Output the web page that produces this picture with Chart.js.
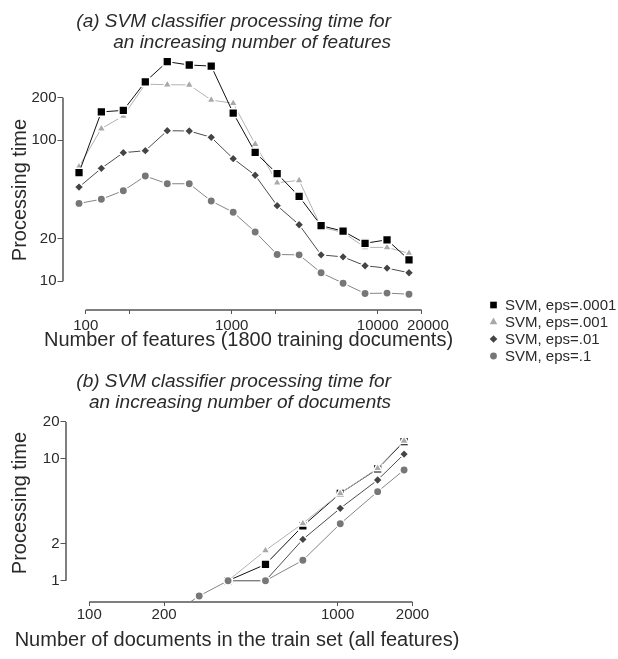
<!DOCTYPE html>
<html>
<head>
<meta charset="utf-8">
<script src="https://cdn.jsdelivr.net/npm/chart.js@4/dist/chart.umd.min.js"></script>
<style>
  html, body { margin: 0; padding: 0; background: #fff; }
  #wrap { position: relative; width: 618px; height: 659px; overflow: hidden;
          font-family: "Liberation Sans", Arial, sans-serif; color: #2a2a2a; }
  canvas { position: absolute; left: 0; top: 0; }
  .t { position: absolute; white-space: nowrap; }
  .title { font-style: italic; font-size: 19px; line-height: 21px; text-align: right; right: 227px; }
  .xt { font-size: 20px; line-height: 20px; transform: translateX(-50%); }
  .yt { font-size: 20px; line-height: 20px; transform: translate(-50%, -50%) rotate(-90deg); }
</style>
</head>
<body>
<div id="wrap">
  <canvas id="cFeat" width="618" height="659"></canvas>
  <canvas id="cDocs" width="618" height="659"></canvas>

  <div class="t title" style="top:10px">(a) SVM classifier processing time for<br>an increasing number of features</div>
  <div class="t yt" style="left:18.6px; top:190px">Processing time</div>
  <div class="t xt" style="left:248.5px; top:329px">Number of features (1800 training documents)</div>

  <div class="t title" style="top:370px">(b) SVM classifier processing time for<br>an increasing number of documents</div>
  <div class="t yt" style="left:18.6px; top:503px">Processing time</div>
  <div class="t xt" style="left:237px; top:629px">Number of documents in the train set (all features)</div>
</div>

<script>
// Series names (legend)
const seriesNames = ['SVM, eps=.0001', 'SVM, eps=.001', 'SVM, eps=.01', 'SVM, eps=.1'];

// (a) processing time vs number of features
const featureCounts = [90, 128, 181, 256, 362, 512, 724, 1024, 1448, 2048, 2896, 4096, 5793, 8192, 11585, 16384];
const featTimeEps0001 = [59, 159, 163, 260, 361, 342, 336, 156, 82, 58, 40, 24.8, 22.7, 18.6, 19.7, 14.2];
const featTimeEps001  = [65, 121, 149, 250, 248, 247, 193, 183, 94, 50, 52, 24.2, 22.2, 17.4, 17.4, 15.8];
const featTimeEps01   = [46.6, 63.3, 81.7, 84.4, 117, 116.4, 105, 74.1, 56.5, 34.4, 25.2, 15.4, 14.9, 12.9, 12.4, 11.5];
const featTimeEps1    = [35.7, 38.2, 43.9, 55.8, 49.2, 49.2, 37.1, 30.9, 22.4, 15.5, 15.4, 11.5, 9.7, 8.2, 8.25, 8.1];

// (b) processing time vs number of training documents
const docCounts = [200, 277, 362, 512, 724, 1024, 1448, 1850];
const docTimeEps0001 = [null, null, 1.0, 1.36, 2.81, 5.2, 8.25, 13.8];
const docTimeEps001  = [null, null, 1.0, 1.77, 2.95, 5.2, 8.34, 14.0];
const docTimeEps01   = [null, null, 1.0, 1.0, 2.18, 3.92, 6.69, 10.9];
const docTimeEps1    = [0.48, 0.75, 1.0, 1.0, 1.47, 2.93, 5.37, 8.08];

// Axis ticks and labels
const featXTicks  = [100, 200, 1000, 2000, 10000, 20000];
const featXLabels = ['100', '', '1000', '', '10000', '   20000'];
const featYTicks  = [10, 20, 100, 200];
const featYLabels = ['10', '20', '100', '200'];
const docXTicks   = [100, 200, 1000, 2000];
const docXLabels  = ['100', '200', '1000', '2000'];
const docYTicks   = [1, 2, 10, 20];
const docYLabels  = ['1', '2', '10', '20'];

// Marker look per series
const looks = [
  { pointStyle: 'rect',     fill: '#000000', line: '#111111', radius: 6.2, keyRadius: 4.7 },
  { pointStyle: 'triangle', fill: '#a8a8a8', line: '#b2b2b2', radius: 5.1, keyRadius: 4.4 },
  { pointStyle: 'rectRot',  fill: '#444444', line: '#4c4c4c', radius: 4.7, keyRadius: 3.8 },
  { pointStyle: 'circle',   fill: '#777777', line: '#858585', radius: 4.2, keyRadius: 3.4 }
];

const FONT = '"Liberation Sans", Arial, sans-serif';
const TEXT = '#2a2a2a';
Chart.defaults.font.family = FONT;
Chart.defaults.font.size = 15;
Chart.defaults.color = TEXT;

function buildDatasets(xs, seriesList, orders) {
  return seriesList.map((ys, i) => ({
    label: seriesNames[i],
    data: xs.map((x, k) => ({ x: x, y: ys[k] })),
    borderColor: looks[i].line,
    borderWidth: 1,
    backgroundColor: looks[i].fill,
    pointStyle: looks[i].pointStyle,
    pointRadius: looks[i].radius,
    pointBackgroundColor: looks[i].fill,
    pointBorderColor: '#ffffff',
    pointBorderWidth: 1.5,
    tension: 0,
    spanGaps: false,
    order: orders ? orders[i] : 0
  }));
}

// Axis lines that run only from the first to the last tick
const rangeFrame = {
  id: 'rangeFrame',
  beforeDatasetsDraw(chart, args, opts) {
    const { ctx, chartArea, scales } = chart;
    const xs = scales.x, ys = scales.y;
    ctx.save();
    ctx.strokeStyle = opts.color;
    ctx.lineWidth = opts.width;
    ctx.beginPath();
    ctx.moveTo(xs.getPixelForValue(opts.xTicks[0]), chartArea.bottom);
    ctx.lineTo(xs.getPixelForValue(opts.xTicks[opts.xTicks.length - 1]), chartArea.bottom);
    ctx.moveTo(chartArea.left, ys.getPixelForValue(opts.yTicks[0]));
    ctx.lineTo(chartArea.left, ys.getPixelForValue(opts.yTicks[opts.yTicks.length - 1]));
    ctx.stroke();
    ctx.restore();
  }
};

// Series key drawn beside the upper plot
const seriesKey = {
  id: 'seriesKey',
  afterDraw(chart, args, opts) {
    if (!opts.show) return;
    const ctx = chart.ctx;
    ctx.save();
    chart.data.datasets.forEach((ds, i) => {
      const y = opts.top + i * opts.gap;
      ctx.fillStyle = looks[i].fill;
      Chart.helpers.drawPoint(ctx, {
        pointStyle: looks[i].pointStyle, radius: looks[i].keyRadius, rotation: 0, borderWidth: 0
      }, opts.markerX, y);
      ctx.fillStyle = TEXT;
      ctx.font = '15px ' + FONT;
      ctx.textAlign = 'left';
      ctx.textBaseline = 'middle';
      ctx.fillText(ds.label, opts.textX, y + 0.5);
    });
    ctx.restore();
  }
};

function logAxis(ticks, labels, min, max, size, isX, pad) {
  return {
    type: 'logarithmic',
    min: min,
    max: max,
    afterBuildTicks: (scale) => { scale.ticks = ticks.map(v => ({ value: v })); },
    afterFit: (scale) => { if (isX) { scale.height = size; } else { scale.width = size; } },
    border: { display: false },
    grid: { display: true, drawOnChartArea: false, drawTicks: true, tickLength: isX ? 4 : 5.5,
            color: '#555', lineWidth: 1 },
    ticks: {
      autoSkip: false, maxRotation: 0, minRotation: 0, padding: pad, color: TEXT,
      font: { size: 15 },
      callback: (v) => { const k = ticks.indexOf(v); return k >= 0 ? labels[k] : ''; }
    },
    title: { display: false }
  };
}

function makeChart(id, xs, seriesList, orders, area, axes, key) {
  return new Chart(document.getElementById(id), {
    type: 'line',
    data: { datasets: buildDatasets(xs, seriesList, orders) },
    options: {
      responsive: false,
      animation: false,
      events: [],
      layout: { padding: area.padding },
      scales: {
        x: logAxis(axes.xTicks, axes.xLabels, axes.xMin, axes.xMax, 30, true, axes.xPad),
        y: logAxis(axes.yTicks, axes.yLabels, axes.yMin, axes.yMax, area.yWidth, false, 1)
      },
      plugins: {
        legend: { display: false },
        tooltip: { enabled: false },
        title: { display: false },
        rangeFrame: { color: '#555', width: 1.5, xTicks: axes.xTicks, yTicks: axes.yTicks },
        seriesKey: key
      }
    },
    plugins: [rangeFrame, seriesKey]
  });
}

makeChart('cFeat', featureCounts,
  [featTimeEps0001, featTimeEps001, featTimeEps01, featTimeEps1], null,
  { padding: { top: 55, left: 0, right: 193, bottom: 319 }, yWidth: 63 },
  { xTicks: featXTicks, xLabels: featXLabels, xMin: 69.9, xMax: 21086, xPad: 3,
    yTicks: featYTicks, yLabels: featYLabels, yMin: 6.26, yMax: 402.7 },
  { show: true, markerX: 493.5, textX: 505, top: 305, gap: 17 });

makeChart('cDocs', docCounts,
  [docTimeEps0001, docTimeEps001, docTimeEps01, docTimeEps1], [3, 2, 1, 0],
  { padding: { top: 415, left: 0, right: 198, bottom: 27 }, yWidth: 66 },
  { xTicks: docXTicks, xLabels: docXLabels, xMin: 80.6, xMax: 2144, xPad: 0,
    yTicks: docYTicks, yLabels: docYLabels, yMin: 0.669, yMax: 22.8 },
  { show: false });
</script>
</body>
</html>
